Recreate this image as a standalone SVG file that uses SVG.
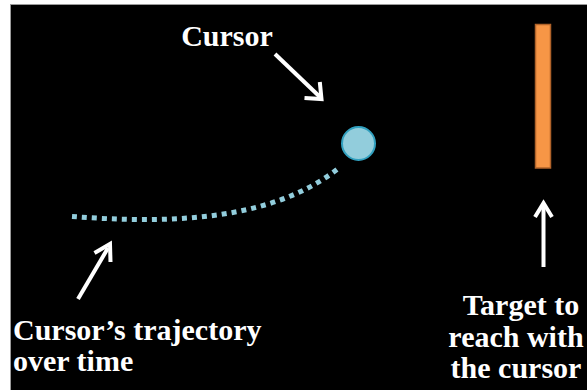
<svg xmlns="http://www.w3.org/2000/svg" width="587" height="390" viewBox="0 0 587 390">
<rect x="0" y="0" width="587" height="390" fill="#ffffff"/>
<rect x="10.5" y="4.5" width="580" height="390" fill="#000000" stroke="#9a9a9a" stroke-width="1"/>
<g id="trajectory">
<path d="M72,216.5 C160,223 270,224 340,167" fill="none" stroke="#92cddc" stroke-width="5" stroke-dasharray="5 5"/>
</g>
<g id="cursor">
<circle cx="358.5" cy="143.5" r="16.5" fill="#92cddc" stroke="#31a0bf" stroke-width="2"/>
</g>
<g id="target">
<rect x="535.5" y="24.5" width="15" height="143.5" fill="#f79646" stroke="#b1632a" stroke-width="1.5"/>
</g>
<g id="connectors" stroke="#ffffff" stroke-width="4" fill="none" stroke-linejoin="miter">
<path d="M275,54 L320,97"/>
<path d="M319.8,82 L321.5,99 L304.5,98"/>
<path d="M78,299 L108,248"/>
<path d="M94.5,253 L110,244 L110.5,262"/>
<path d="M543.5,267 L543.5,205"/>
<path d="M535,217 L543.5,203 L552,217"/>
</g>
<g id="labels">
<text x="227" y="46" text-anchor="middle" font-family="Times New Roman" font-weight="bold" font-size="30" fill="#fff">Cursor</text>
<text x="13" y="340" font-family="Times New Roman" font-weight="bold" font-size="30" fill="#fff">Cursor’s trajectory</text>
<text x="13" y="371" font-family="Times New Roman" font-weight="bold" font-size="30" fill="#fff">over time</text>
<text x="521" y="315" text-anchor="middle" font-family="Times New Roman" font-weight="bold" font-size="30" fill="#fff">Target to</text>
<text x="516" y="347" text-anchor="middle" font-family="Times New Roman" font-weight="bold" font-size="30" fill="#fff">reach with</text>
<text x="516" y="378" text-anchor="middle" font-family="Times New Roman" font-weight="bold" font-size="30" fill="#fff">the cursor</text>
</g>
</svg>
